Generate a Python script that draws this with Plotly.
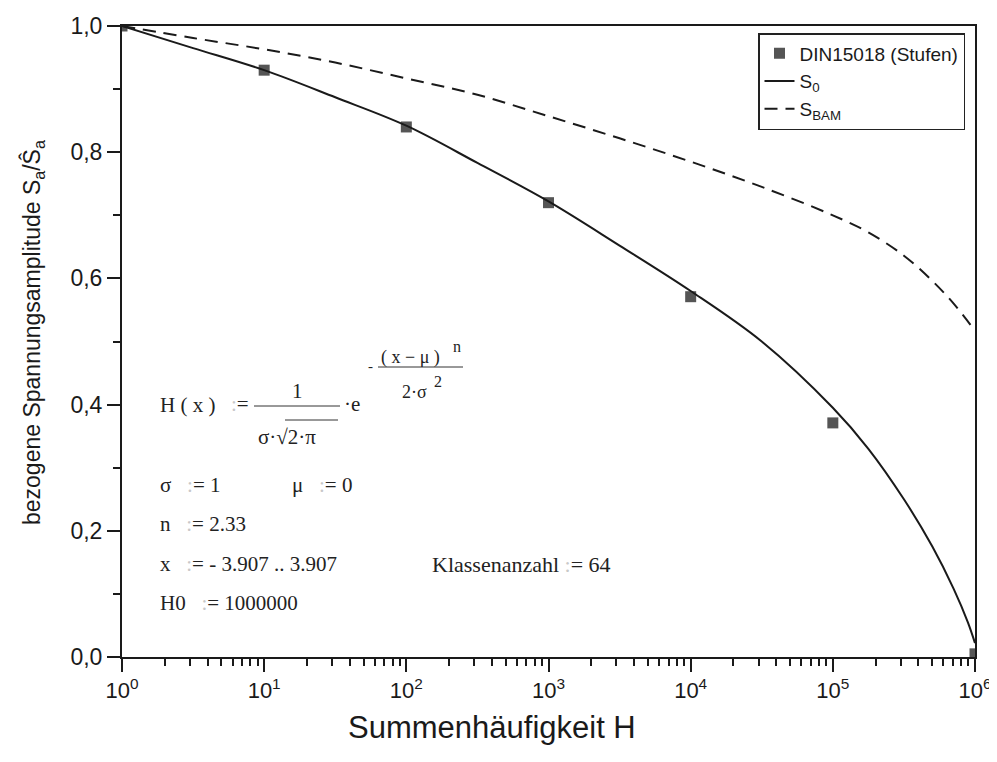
import plotly.graph_objects as go

# ---------------- data ----------------
din_H = [1, 10, 100, 1000, 10000, 100000, 1000000]
din_S = [1.0, 0.93, 0.84, 0.72, 0.571, 0.371, 0.005]

s0_logH = [0, 0.5, 1, 1.5, 2, 2.5, 3, 3.5, 4, 4.5, 5, 5.25, 5.5, 5.7, 5.85, 5.95, 6]
s0_S = [1.0, 0.965, 0.930, 0.887, 0.842, 0.783, 0.722, 0.652, 0.580, 0.500, 0.395,
        0.330, 0.250, 0.175, 0.108, 0.055, 0.022]

bam_logH = [0, 0.5, 1, 1.5, 2, 2.5, 3, 3.5, 4, 4.5, 5, 5.25, 5.5, 5.7, 5.85, 6]
bam_S = [1.0, 0.981, 0.963, 0.942, 0.917, 0.891, 0.857, 0.822, 0.785, 0.745, 0.700,
         0.673, 0.636, 0.596, 0.560, 0.517]

x_tickvals = [1, 10, 100, 1000, 10000, 100000, 1000000]
x_ticktext = ["10<sup>0</sup>", "10<sup>1</sup>", "10<sup>2</sup>", "10<sup>3</sup>",
              "10<sup>4</sup>", "10<sup>5</sup>", "10<sup>6</sup>"]
y_tickvals = [0.0, 0.2, 0.4, 0.6, 0.8, 1.0]
y_ticktext = ["0,0", "0,2", "0,4", "0,6", "0,8", "1,0"]

# ---------------- layout constants ----------------
OFF = 8                       # page body margin of the HTML page
W, H = 997 - OFF, 762 - OFF
PL, PR, PT, PB = 122, 975, 26, 657   # wanted plot-area edges in window pixels
L, T = PL - OFF, PT - OFF
PW, PH = PR - PL, PB - PT
R = W - L - PW
B = H - T - PH


def px(x, y):
    """window pixel -> paper coordinate"""
    return (x - PL) / PW, (PB - y) / PH


s0_H = [10 ** v for v in s0_logH]
bam_H = [10 ** v for v in bam_logH]
minor_x = [m * 10 ** k for k in range(6) for m in range(2, 10)]

fig = go.Figure()
fig.add_trace(go.Scatter(x=din_H, y=din_S, mode="markers", name="DIN15018 (Stufen)",
                         marker=dict(symbol="square", size=11, color="#555555",
                                     line=dict(width=0))))
fig.add_trace(go.Scatter(x=s0_H, y=s0_S, mode="lines", name="S<sub>0</sub>",
                         line=dict(color="#1a1a1a", width=2, shape="spline", smoothing=1.0)))
fig.add_trace(go.Scatter(x=bam_H, y=bam_S, mode="lines", name="S<sub>BAM</sub>",
                         line=dict(color="#1a1a1a", width=2, dash="13px,8px",
                                   shape="spline", smoothing=1.0)))

serif = "Liberation Serif, Times New Roman, serif"
sans = "Liberation Sans, Arial, sans-serif"
col = '<span style="color:#c8c8c8">:</span>='

texts = [
    ("H ( x )", 158, 405, 21, "left"),
    (col, 229, 404, 21, "left"),
    ("1", 297, 391, 21, "center"),
    ("σ·√2·π", 256, 437, 21, "left"),
    ("·e", 342, 404, 21, "left"),
    ("-", 370, 366, 15, "center"),
    ("( x − μ )", 379, 357, 18, "left"),
    ("n", 457, 346, 16, "center"),
    ("2·σ", 400, 392, 18, "left"),
    ("2", 438, 381, 16, "center"),
    ("σ   " + col + " 1", 158, 485, 21, "left"),
    ("μ   " + col + " 0", 290, 485, 21, "left"),
    ("n   " + col + " 2.33", 158, 524, 21, "left"),
    ("x   " + col + " - 3.907 .. 3.907", 158, 564, 21, "left"),
    ("Klassenanzahl " + col + " 64", 430, 564, 22, "left"),
    ("H0   " + col + " 1000000", 158, 603, 21, "left"),
]
annotations = []
for t, x, y, s, anc in texts:
    ax, ay = px(x, y)
    annotations.append(dict(text=t, x=ax, y=ay, xref="paper", yref="paper",
                            xanchor=anc, yanchor="middle", showarrow=False,
                            font=dict(family=serif, size=s, color="#222")))

tx, ty = px(33, 333)
annotations.append(dict(text="bezogene Spannungsamplitude S<sub>a</sub>/Ŝ<sub>a</sub>",
                        x=tx, y=ty, xref="paper", yref="paper", textangle=-90,
                        xanchor="center", yanchor="middle", showarrow=False,
                        font=dict(family=sans, size=23, color="#1a1a1a")))
tx, ty = px(492, 727)
annotations.append(dict(text="Summenhäufigkeit H", x=tx, y=ty, xref="paper", yref="paper",
                        xanchor="center", yanchor="middle", showarrow=False,
                        font=dict(family=sans, size=31, color="#1a1a1a")))

shapes = []
for x0, x1, y0 in [(254, 340, 406), (285, 338, 420), (378, 463, 367)]:
    a0, b0 = px(x0, y0)
    a1, _ = px(x1, y0)
    shapes.append(dict(type="line", xref="paper", yref="paper", x0=a0, x1=a1, y0=b0, y1=b0,
                       line=dict(color="#333", width=1)))

fig.update_layout(
    width=W, height=H,
    margin=dict(l=L, r=R, t=T, b=B, pad=0, autoexpand=False),
    paper_bgcolor="white", plot_bgcolor="white",
    font=dict(family=sans, color="#1a1a1a"),
    showlegend=True,
    legend=dict(x=px(965, 0)[0], y=px(0, 33)[1], xanchor="right", yanchor="top",
                bgcolor="white", bordercolor="#222", borderwidth=1.5,
                font=dict(family=sans, size=19, color="#1a1a1a"),
                tracegroupgap=0, itemwidth=30),
    annotations=annotations,
    shapes=shapes,
    xaxis=dict(type="log", range=[0, 6], tickvals=x_tickvals, ticktext=x_ticktext,
               automargin=False,
               ticks="outside", ticklen=13, tickwidth=2, tickcolor="#1a1a1a",
               showline=True, linewidth=2, linecolor="#1a1a1a", mirror=True,
               showgrid=False, zeroline=False,
               tickfont=dict(family=sans, size=22),
               minor=dict(tickvals=minor_x, ticks="outside", ticklen=7, tickwidth=2,
                          tickcolor="#1a1a1a", showgrid=False)),
    yaxis=dict(range=[0, 1], tickvals=y_tickvals, ticktext=y_ticktext,
               automargin=False,
               ticks="outside", ticklen=13, tickwidth=2, tickcolor="#1a1a1a",
               showline=True, linewidth=2, linecolor="#1a1a1a", mirror=True,
               showgrid=False, zeroline=False,
               tickfont=dict(family=sans, size=23),
               minor=dict(dtick=0.1, ticks="outside", ticklen=7, tickwidth=2,
                          tickcolor="#1a1a1a", showgrid=False)),
)

fig.write_html("out.html")
